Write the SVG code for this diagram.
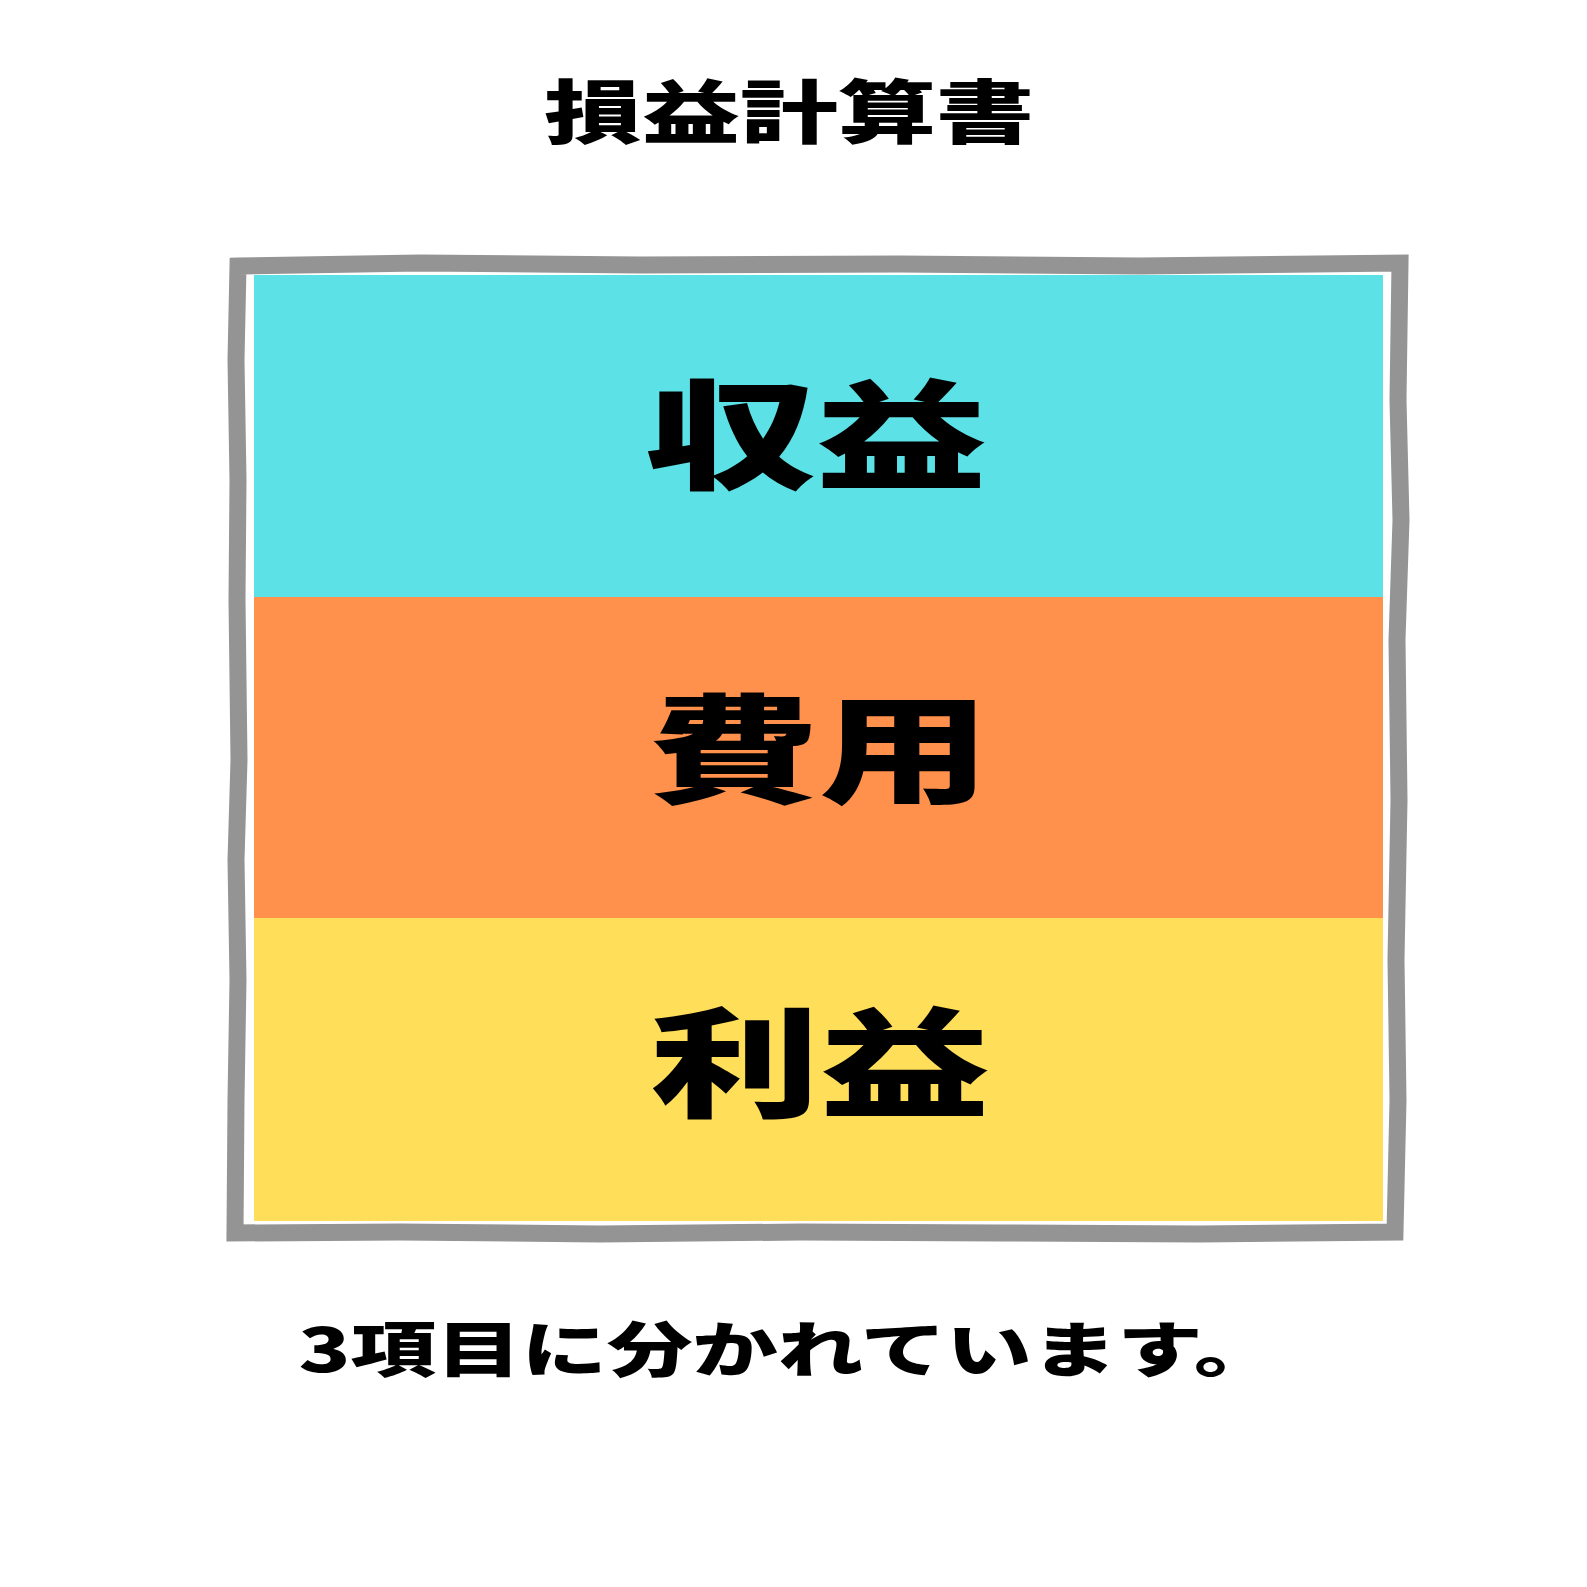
<svg xmlns="http://www.w3.org/2000/svg" width="1587" height="1587" viewBox="0 0 1587 1587">
<style>
.jp{font-family:"Noto Sans CJK JP","Noto Sans",sans-serif;font-weight:900;fill:#000;text-anchor:middle}
.frame{fill:none;stroke:#949494;stroke-width:17;stroke-linejoin:miter}
</style>
<rect width="1587" height="1587" fill="#fff"/>
<g id="frame">
<path class="frame" d="M238,266 L420,263 L640,265 L900,264 L1140,266 L1400,263 L1398,400 L1401,520 L1397,640 L1399,800 L1396,960 L1398,1100 L1395,1232 L1200,1234 L1000,1233 L800,1232 L600,1234 L400,1232 L235,1233 L236,1100 L238,980 L236,860 L239,760 L237,600 L238,480 L236,360 Z"/>
</g>
<g id="revenue">
<rect x="254" y="275" width="1129" height="323" fill="#5CE1E6"/>
<text class="jp" transform="translate(816,480) scale(1,0.7)" font-size="171">収益</text>
</g>
<g id="expense">
<rect x="254" y="597" width="1129" height="322" fill="#FF914D"/>
<text class="jp" transform="translate(819,794) scale(1,0.69)" font-size="171">費用</text>
</g>
<g id="profit">
<rect x="254" y="918" width="1129" height="303" fill="#FFDE59"/>
<text class="jp" transform="translate(820,1108) scale(1,0.7)" font-size="170">利益</text>
</g>
<g id="title">
<text class="jp" transform="translate(789,138) scale(1,0.71)" font-size="98">損益計算書</text>
</g>
<g id="caption">
<text class="jp" transform="translate(789,1372) scale(1,0.71)" font-size="85.5">3項目に分かれています。</text>
</g>
</svg>
